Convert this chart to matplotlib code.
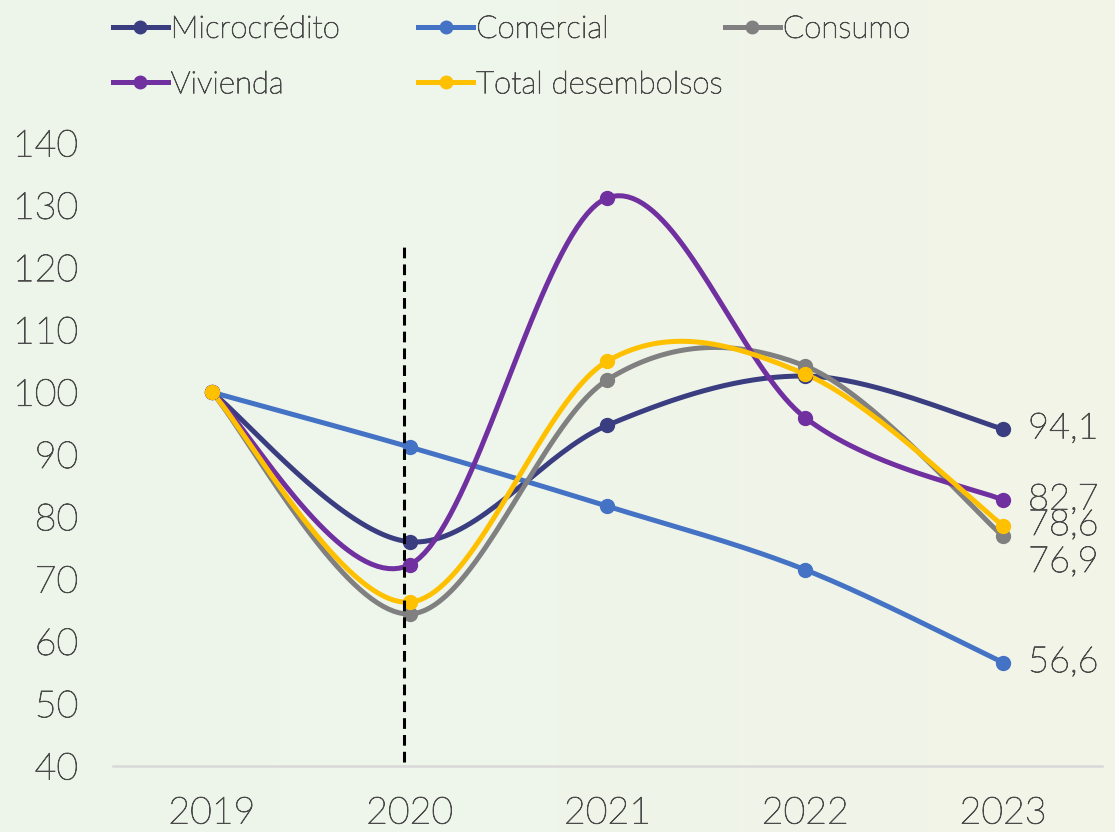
import numpy as np
import matplotlib
matplotlib.use("Agg")
from matplotlib import pyplot as plt
from matplotlib import patheffects as pe
from matplotlib.colors import LinearSegmentedColormap

# data (index, 2019 = 100)
years = ["2019", "2020", "2021", "2022", "2023"]
microcredito = [100.0, 76.0, 94.7, 102.6, 94.1]
comercial = [100.0, 91.2, 81.7, 71.5, 56.6]
consumo = [100.0, 64.4, 102.0, 104.2, 76.9]
vivienda = [100.0, 72.3, 131.2, 95.9, 82.7]
total = [100.0, 66.3, 105.0, 102.9, 78.6]
yticks = [40, 50, 60, 70, 80, 90, 100, 110, 120, 130, 140]

series = [
    ("Microcrédito", microcredito, "#3A3D80"),
    ("Comercial", comercial, "#4472C4"),
    ("Consumo", consumo, "#808080"),
    ("Vivienda", vivienda, "#7030A0"),
    ("Total desembolsos", total, "#FFC000"),
]

TXT = "#4A4A4A"
plt.rcParams["font.family"] = ["Lato", "DejaVu Sans"]
plt.rcParams["font.weight"] = "light"
thicker = [pe.withStroke(linewidth=0.6, foreground=TXT)]


def smooth(xs, ys, n=40):
    """Excel-like smoothed line (Catmull-Rom style cubic Bezier)."""
    pts = np.column_stack([np.asarray(xs, float), np.asarray(ys, float)])
    out = []
    for i in range(len(pts) - 1):
        p0 = pts[max(i - 1, 0)]
        p1 = pts[i]
        p2 = pts[i + 1]
        p3 = pts[min(i + 2, len(pts) - 1)]
        c1 = p1 + (p2 - p0) / 6.0
        c2 = p2 - (p3 - p1) / 6.0
        t = np.linspace(0, 1, n)[:, None]
        seg = ((1 - t) ** 3) * p1 + 3 * ((1 - t) ** 2) * t * c1 \
            + 3 * (1 - t) * t ** 2 * c2 + t ** 3 * p2
        out.append(seg if i == 0 else seg[1:])
    out = np.vstack(out)
    return out[:, 0], out[:, 1]


fig = plt.figure(figsize=(11.15, 8.32), dpi=100)

# soft green background gradient
bg = fig.add_axes([0, 0, 1, 1], zorder=-10)
grad = np.linspace(0, 1, 256)[None, :]
cmap = LinearSegmentedColormap.from_list("bg", ["#EDF5EA", "#EFF5EA", "#F2F4E7"])
bg.imshow(grad, aspect="auto", cmap=cmap, extent=[0, 1, 0, 1])
bg.axis("off")

ax = fig.add_axes([0.1013, 0.0793, 0.8870, 0.7488])
ax.patch.set_alpha(0)

x = np.arange(len(years))
handles = []
for name, vals, col in series:
    sx, sy = smooth(x, vals)
    ax.plot(sx, sy, color=col, lw=3.6, solid_capstyle="round", zorder=3)
    ax.plot(x, vals, "o", color=col, ms=10, zorder=4)
    h, = ax.plot([], [], color=col, lw=3.6, marker="o", ms=9, label=name)
    handles.append(h)

# vertical marker at 2020
ax.plot([0.97, 0.97], [40.6, 123.7], color="black", lw=2.2,
        linestyle=(0, (3.5, 2.0)), zorder=6)

# end labels
offsets = {"Microcrédito": 0, "Comercial": 0, "Consumo": -19,
           "Vivienda": 0, "Total desembolsos": 0}
for name, vals, col in series:
    ax.annotate(f"{vals[-1]:.1f}".replace(".", ","), (x[-1], vals[-1]),
                xytext=(18, offsets[name]), textcoords="offset points",
                ha="left", va="center", fontsize=26, color=TXT, zorder=7,
                annotation_clip=False, path_effects=thicker)

ax.set_xlim(-0.5, len(years) - 0.5)
ax.set_ylim(40, 140)
ax.set_xticks(x)
ax.set_xticklabels(years)
ax.set_yticks(yticks)
for s in ["top", "right", "left"]:
    ax.spines[s].set_visible(False)
ax.spines["bottom"].set_color("#D9D9D9")
ax.spines["bottom"].set_linewidth(1.8)
ax.tick_params(axis="both", length=0, labelsize=27, colors=TXT)
ax.tick_params(axis="x", pad=22)
ax.tick_params(axis="y", pad=25)
for lab in ax.get_xticklabels() + ax.get_yticklabels():
    lab.set_path_effects(thicker)

# legend: three equal-width columns like Excel
columns = [[0, 3], [1, 4], [2]]
col_x = [0.076, 0.350, 0.625]
for cx, idx in zip(col_x, columns):
    leg = fig.legend([handles[i] for i in idx], [handles[i].get_label() for i in idx],
                     loc="upper left", bbox_to_anchor=(cx, 1.016), frameon=False,
                     fontsize=22.5, labelcolor=TXT, handlelength=1.75,
                     handletextpad=0.1, labelspacing=0.85)
    for t in leg.get_texts():
        t.set_path_effects(thicker)

fig.savefig("out.png", dpi=100)
